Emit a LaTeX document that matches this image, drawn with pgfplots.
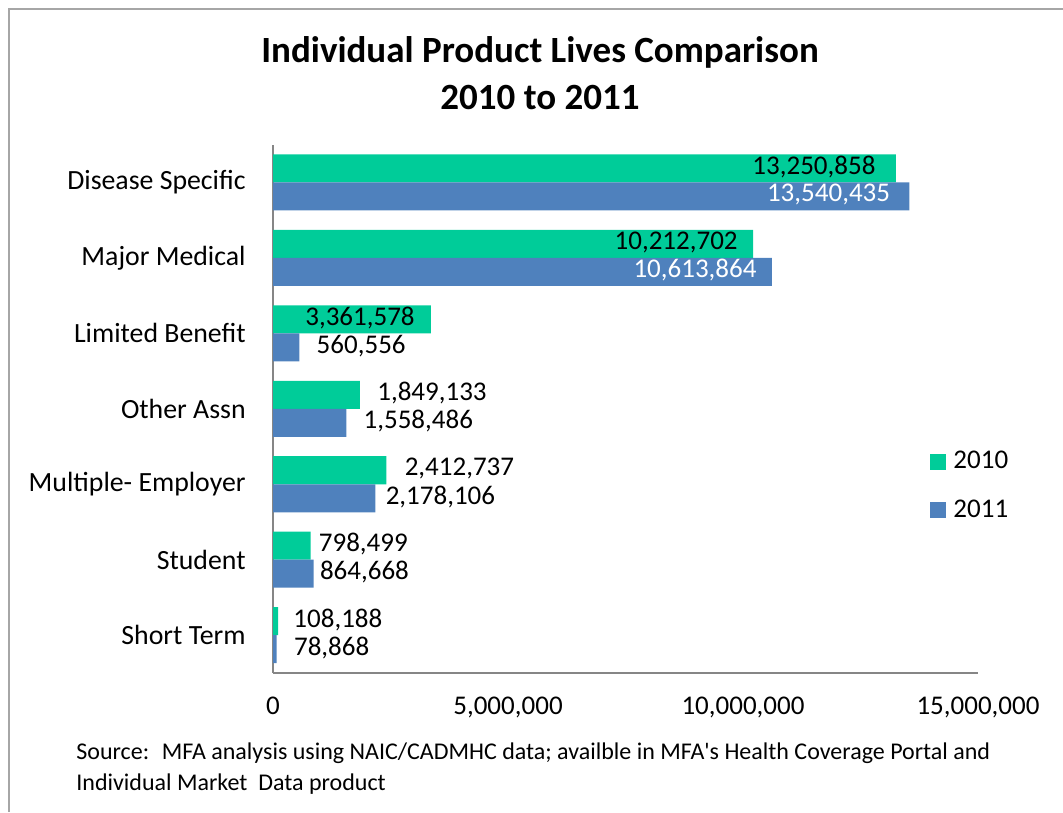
\documentclass[border=0pt]{standalone}
\usepackage{pgfplots}
\pgfplotsset{compat=1.18}
\usepackage{fontspec}
\setmainfont{Carlito}
\definecolor{cGreen}{RGB}{0,204,153}
\definecolor{cBlue}{RGB}{79,129,189}
\definecolor{cAxis}{RGB}{134,134,134}
\definecolor{cBorder}{RGB}{166,166,166}
\begin{document}
\begin{tikzpicture}
\useasboundingbox (0,0) rectangle (531.5pt,406pt);
\draw[cBorder, line width=1.2pt] (4.5pt,0) -- (4.5pt,401.5pt) -- (531.5pt,401.5pt);
\node[anchor=base, inner sep=0pt, font=\fontsize{18.5}{22}\selectfont\bfseries] at (270pt,374.5pt) {Individual Product Lives Comparison};
\node[anchor=base, inner sep=0pt, font=\fontsize{18.5}{22}\selectfont\bfseries] at (270pt,351pt) {2010 to 2011};
\node[anchor=base west, inner sep=0pt, font=\fontsize{12}{14}\selectfont] at (38pt,26pt) {Source:~ MFA analysis using NAIC/CADMHC data; availble in MFA\textquotesingle s Health Coverage Portal and};
\node[anchor=base west, inner sep=0pt, font=\fontsize{12}{14}\selectfont] at (38pt,10.5pt) {Individual Market~ Data product};
\begin{axis}[
  at={(136.5pt,69.5pt)}, anchor=south west,
  scale only axis, width=352.5pt, height=264.25pt,
  xbar, bar width=14pt,
  xmin=0, xmax=15000000, ymin=-0.5, ymax=6.5,
  ytick={0,...,6},
  yticklabels={Short Term, Student, {Multiple- Employer\hspace{4pt}}, Other Assn, Limited Benefit, Major Medical, Disease Specific},
  xtick={0,5000000,10000000,15000000},
  xticklabels={0,{5,000,000},{10,000,000},{15,000,000}},
  scaled x ticks=false,
  axis lines=left, axis line style={-, draw=cAxis, line width=1pt},
  major tick length=0pt, tick style={draw=none},
  yticklabel style={anchor=east, inner sep=0pt, xshift=-13.5pt, font=\fontsize{13.9}{16}\selectfont},
  xticklabel style={anchor=north, inner sep=0pt, yshift=-12pt, font=\fontsize{13.5}{16}\selectfont},
  legend style={draw=none, fill=none, at={(0.932,0.42)}, anchor=north west,
    inner sep=0pt, row sep=14pt, font=\fontsize{13.5}{16}\selectfont,
    nodes={inner sep=0pt},
    /tikz/every odd column/.append style={column sep=3.5pt}},
  legend cell align=left,
  legend image code/.code={\fill[#1] (0pt,-4pt) rectangle (8pt,4pt);},
  point meta=explicit symbolic,
  nodes near coords,
  visualization depends on={value \thisrow{anc} \as \anc},
  visualization depends on={value \thisrow{xs} \as \xs},
  visualization depends on={value \thisrow{tc} \as \tc},
  every node near coord/.append style={anchor=\anc, xshift=\xs, yshift=0.8pt, text=\tc, inner sep=0pt, font=\fontsize{13.5}{16}\selectfont},
]
\addplot[fill=cGreen, draw=none, bar shift=7pt] table[x=x, y=y, meta=label] {
y x label anc xs tc
6 13250858 13,250,858 east -10pt black
5 10212702 10,212,702 east -7.5pt black
4 3361578 3,361,578 east -8pt black
3 1849133 1,849,133 west 8.5pt black
2 2412737 2,412,737 west 9pt black
1 798499 798,499 west 4pt black
0 108188 108,188 west 7.5pt black
};
\addlegendentry{2010}
\addplot[fill=cBlue, draw=none, bar shift=-7pt] table[x=x, y=y, meta=label] {
y x label anc xs tc
6 13540435 13,540,435 east -9.5pt white
5 10613864 10,613,864 east -7.5pt white
4 560556 560,556 west 8.5pt black
3 1558486 1,558,486 west 8.5pt black
2 2178106 2,178,106 west 5pt black
1 864668 864,668 west 3pt black
0 78868 78,868 west 8.5pt black
};
\addlegendentry{2011}
\end{axis}
\end{tikzpicture}
\end{document}
